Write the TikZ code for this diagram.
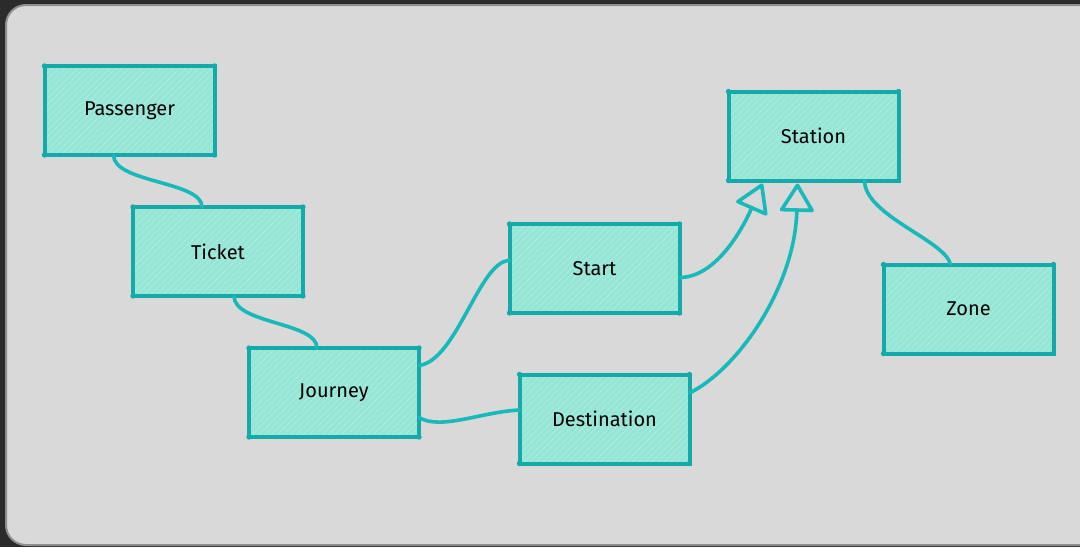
\documentclass[tikz,border=0pt]{standalone}
\usepackage{fontspec}
\setmainfont{Fira Sans}
\usetikzlibrary{arrows.meta,calc,patterns.meta}

\definecolor{pagebg}{HTML}{2B2B2B}
\definecolor{panel}{HTML}{D9D9D9}
\definecolor{panelrim}{HTML}{8E8E8E}
\definecolor{boxfill}{HTML}{97E5D5}
\definecolor{boxhatch}{HTML}{A6ECDF}
\definecolor{boxline}{HTML}{14AAAA}
\definecolor{wire}{HTML}{18B9B9}

\begin{document}
\begin{tikzpicture}[x=1pt,y=-1pt,
  entity/.style={draw=boxline, line width=4pt,
    preaction={fill=boxfill},
    preaction={pattern={Lines[angle=45,distance=4.5pt,line width=0.9pt]}, pattern color=boxhatch},
    minimum width=170pt, minimum height=89pt, outer sep=0pt, inner sep=0pt,
    font=\fontsize{20}{22}\selectfont, text=black},
  link/.style={draw=wire, line width=3.6pt, line cap=round},
  isa/.style={link, -{Triangle[open, length=30pt, width=36pt, round]}}
]
\useasboundingbox (0,0) rectangle (1080,547);
\fill[pagebg] (0,0) rectangle (1080,547);
\draw[panelrim, line width=2pt, fill=panel, rounded corners=20pt] (6,5) rectangle (1110,545);

% entities
\node[entity] (passenger)   at (129.5,110.5) {Passenger};
\node[entity] (ticket)      at (218,251.5)   {Ticket};
\node[entity] (journey)     at (334,392.5)   {Journey};
\node[entity] (start)       at (594.5,268.5) {Start};
\node[entity] (destination) at (604.5,419)   {Destination};
\node[entity] (station)     at (813.5,136)   {Station};
\node[entity] (zone)        at (968.5,309)   {Zone};

% sketchy corner dots
\foreach \n in {passenger,ticket,journey,start,destination,station,zone}
  \foreach \a in {north west,north east,south west,south east}
    \fill[boxline] (\n.\a) circle (2.7pt);

% associations
\draw[link] ($(passenger.south)+(-16,0)$) .. controls +(0,28) and +(0,-26) .. ($(ticket.north)+(-16,0)$);
\draw[link] ($(ticket.south)+(16,0)$) .. controls +(0,28) and +(0,-26) .. ($(journey.north)+(-17,0)$);
\draw[link] ($(journey.east)+(0,-27)$) .. controls +(38,-5) and +(-30,0) .. ($(start.west)+(0,-8)$);
\draw[link] ($(journey.east)+(0,25)$) .. controls +(22,13) and +(-39,2) .. ($(destination.west)+(0,-9)$);
\draw[link] ($(station.south)+(51,0)$) .. controls +(0,35) and +(-5,-24) .. ($(zone.north)+(-18,0)$);

% generalisations
\coordinate (tipA) at ($(station.south)+(-51,3)$);
\coordinate (tipB) at ($(station.south)+(-16,3)$);
\draw[isa] ($(start.east)+(0,9)$) .. controls +(36,0) and (742,230) .. (tipA);
\draw[isa] ($(destination.east)+(0,-26)$) .. controls +(50,-25) and (795,285) .. (tipB);
\end{tikzpicture}
\end{document}
